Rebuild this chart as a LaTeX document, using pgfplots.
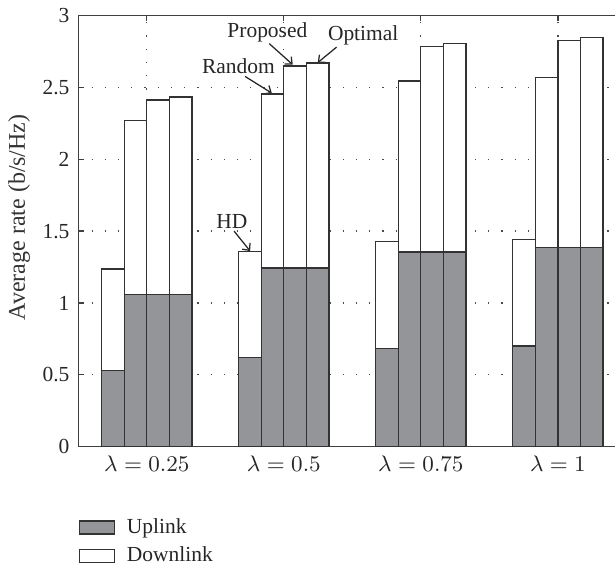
\documentclass[border=0pt]{standalone}
\usepackage{fontspec}
\setmainfont{Liberation Serif}
\usepackage{pgfplots}
\pgfplotsset{compat=1.18}
\usepackage{pgfplotstable}
\usetikzlibrary{arrows.meta}

\definecolor{upgray}{RGB}{147,149,152}
\definecolor{edge}{RGB}{50,50,50}

% Sixteen bars: four lambda groups, each holding HD, Random, Proposed, Optimal (left to right).
% up = uplink rate, down = downlink rate stacked on top of it.
\pgfplotstableread{
x       up     down
0.7525  0.530  0.707
0.9175  1.060  1.207
1.0825  1.060  1.352
1.2475  1.060  1.373
1.7525  0.623  0.735
1.9175  1.244  1.210
2.0825  1.244  1.405
2.2475  1.244  1.425
2.7525  0.683  0.745
2.9175  1.354  1.190
3.0825  1.354  1.431
3.2475  1.354  1.452
3.7525  0.701  0.743
3.9175  1.387  1.180
4.0825  1.387  1.439
4.2475  1.387  1.458
}\rates

\tikzset{
  lab/.style={font=\fontsize{8.6}{10}\selectfont, text=black!85},
  pointer/.style={draw=black!85, line width=0.5pt, -{Straight Barb[length=2.2pt,width=4pt]}},
}

\begin{document}
\begin{tikzpicture}
\begin{axis}[
  at={(0pt,0pt)}, anchor=south west,
  scale only axis, width=215.26pt, height=172.8pt,
  xmin=0.5, xmax=4.4195, ymin=0, ymax=3,
  clip=false,
  ybar stacked, bar width=0.165,
  xtick={1,2,3,4},
  xticklabels={$\lambda = 0.25$, $\lambda = 0.5$, $\lambda = 0.75$, $\lambda = 1$},
  ytick={0,0.5,1,1.5,2,2.5,3},
  ytick pos=left,
  yticklabel style={/pgf/number format/fixed, /pgf/number format/assume math mode=true},
  ticklabel style={font=\fontsize{8.6}{10}\selectfont, text=black!85},
  grid=major,
  major grid style={draw=black!70, line width=0.5pt, dash pattern=on 0.5pt off 4.8pt},
  tick align=inside, major tick length=2.2pt,
  axis line style={draw=none},
  tick style={draw=black!75, line width=0.5pt},
  ylabel={Average rate (b/s/Hz)},
  ylabel style={at={(axis description cs:-0.11,0.532)}, anchor=center,
                font=\fontsize{9.6}{12}\selectfont, text=black!80},
  legend style={at={(axis description cs:0,-0.158)}, anchor=north west,
                draw=none, fill=none, inner sep=0pt, row sep=1.5pt,
                font=\fontsize{8.6}{10}\selectfont, text=black!85,
                nodes={inner sep=1.2pt}},
  legend cell align=left,
  legend image code/.code={\draw[#1, line width=0.5pt] (0pt,-2.6pt) rectangle (14pt,2.6pt);},
]
\addplot[fill=upgray, draw=edge, line width=0.5pt] table[x=x, y=up] {\rates};
\addlegendentry{\hspace{3.6pt}Uplink}
\addplot[fill=white, draw=edge, line width=0.5pt] table[x=x, y=down] {\rates};
\addlegendentry{\hspace{3.6pt}Downlink}

% open frame: left, bottom and top edges (the right edge runs off the page)
\draw[black!75, line width=0.5pt] (rel axis cs:1,1) -- (rel axis cs:0,1) -- (rel axis cs:0,0) -- (rel axis cs:1,0);

% scheme labels pointing at the lambda = 0.5 group
\node[lab] at (axis cs:1.6205,1.565) {HD};
\node[lab] at (axis cs:1.6686,2.646) {Random};
\node[lab] at (axis cs:1.880,2.884) {Proposed};
\node[lab] at (axis cs:2.579,2.859) {Optimal};
\draw[pointer] (axis cs:1.637,1.500) -- (axis cs:1.754,1.361);
\draw[pointer] (axis cs:1.7175,2.576) -- (axis cs:1.912,2.460);
\draw[pointer] (axis cs:1.894,2.804) -- (axis cs:2.065,2.658);
\draw[pointer] (axis cs:2.385,2.780) -- (axis cs:2.247,2.672);
\end{axis}
\path (-31.1pt,-47.2pt) rectangle (215.26pt,178.4pt);
\end{tikzpicture}
\end{document}
